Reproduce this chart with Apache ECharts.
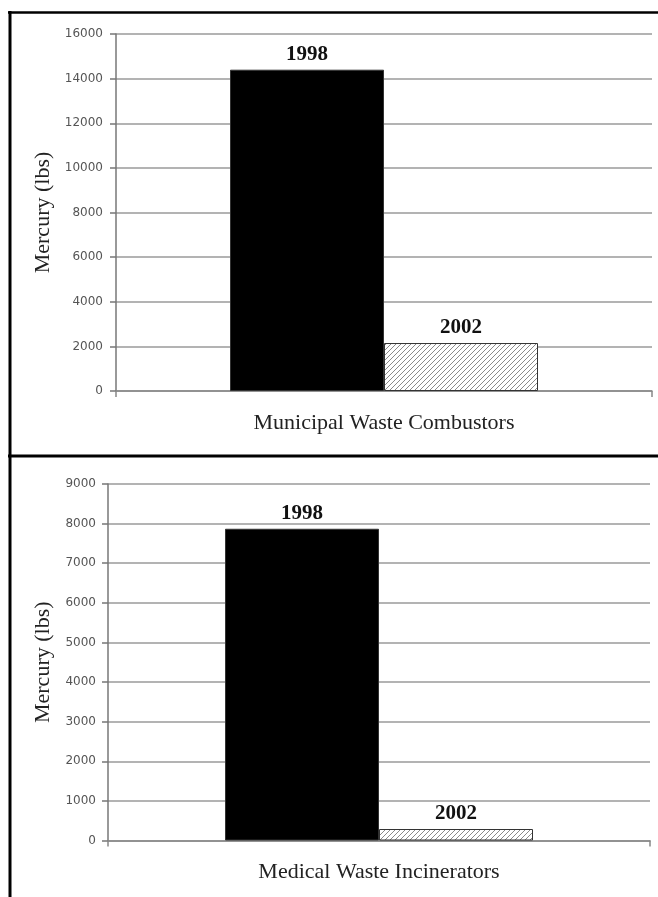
<!DOCTYPE html>
<html>
<head>
<meta charset="utf-8">
<script src="https://cdn.jsdelivr.net/npm/echarts@6/dist/echarts.min.js"></script>
<style>
html,body{margin:0;padding:0;background:#fff;}
#c{width:658px;height:897px;}
</style>
</head>
<body>
<div id="c"></div>
<script>
// Data
const topCategories = ['Municipal Waste Combustors'];
const bottomCategories = ['Medical Waste Incinerators'];
const seriesNames = ['1998', '2002'];
const topValues1998 = [14400];
const topValues2002 = [2150];
const bottomValues1998 = [7870];
const bottomValues2002 = [290];
const topAxisMax = 16000, topAxisInterval = 2000;
const bottomAxisMax = 9000, bottomAxisInterval = 1000;
const yAxisTitle = 'Mercury (lbs)';

// hatch pattern
const pc = document.createElement('canvas');
pc.width = 5; pc.height = 5;
const g = pc.getContext('2d');
g.fillStyle = '#fff'; g.fillRect(0,0,5,5);
g.strokeStyle = '#8a8a8a'; g.lineWidth = 1;
g.beginPath();
g.moveTo(0,5); g.lineTo(5,0);
g.moveTo(-1,1); g.lineTo(1,-1);
g.moveTo(4,6); g.lineTo(6,4);
g.stroke();
const hatch = {image: pc, repeat: 'repeat'};

const serif = 'Liberation Serif';
const tickFont = {fontFamily: 'DejaVu Sans', fontSize: 12, color: '#555'};

function yAx(gi, max, interval) {
  return {
    gridIndex: gi, type: 'value', min: 0, max: max, interval: interval,
    name: yAxisTitle, nameLocation: 'middle', nameRotate: 90,
    nameGap: gi === 0 ? 60 : 52,
    nameTextStyle: {fontFamily: serif, fontSize: 22, color: '#222'},
    axisLine: {show: true, lineStyle: {color: '#777', width: 1.5}},
    axisTick: {show: true, length: 6, lineStyle: {color: '#777', width: 1.5}},
    axisLabel: Object.assign({margin: gi === 0 ? 13 : 12, formatter: v => String(v)}, tickFont),
    splitLine: {show: true, lineStyle: {color: '#9a9a9a', width: 1.5}}
  };
}
function xAx(gi, cats) {
  return {
    gridIndex: gi, type: 'category', data: cats,
    axisLine: {show: true, lineStyle: {color: '#888', width: 1.5}},
    axisTick: {show: true, length: 6, alignWithLabel: false, lineStyle: {color: '#888', width: 1.5}},
    axisLabel: {margin: 21, fontFamily: serif, fontSize: 22, color: '#222'}
  };
}
const labelStyle = {show: true, position: 'top', distance: 5, fontFamily: serif, fontWeight: 'bold', fontSize: 21, color: '#111'};

function bars(gi, name, vals, color) {
  return {
    type: 'bar', name: name, xAxisIndex: gi, yAxisIndex: gi, data: vals,
    barWidth: 154, barGap: '0%',
    itemStyle: {color: color, borderColor: '#333', borderWidth: 1},
    label: Object.assign({formatter: name}, labelStyle),
    silent: true
  };
}

const chart = echarts.init(document.getElementById('c'), null, {renderer: 'canvas'});
chart.setOption({
  animation: false,
  backgroundColor: '#fff',
  grid: [
    {left: 116, top: 34, width: 536, height: 357},
    {left: 108, top: 484, width: 542, height: 356.5}
  ],
  xAxis: [xAx(0, topCategories), xAx(1, bottomCategories)],
  yAxis: [yAx(0, topAxisMax, topAxisInterval), yAx(1, bottomAxisMax, bottomAxisInterval)],
  series: [
    bars(0, seriesNames[0], topValues1998, '#000'),
    bars(0, seriesNames[1], topValues2002, hatch),
    bars(1, seriesNames[0], bottomValues1998, '#000'),
    bars(1, seriesNames[1], bottomValues2002, hatch)
  ],
  graphic: [
    {type: 'line', shape: {x1: 8, y1: 12.5, x2: 658, y2: 12.5}, style: {stroke: '#000', lineWidth: 2.5}},
    {type: 'line', shape: {x1: 10, y1: 11, x2: 10, y2: 897}, style: {stroke: '#000', lineWidth: 3}},
    {type: 'line', shape: {x1: 8, y1: 456, x2: 658, y2: 456}, style: {stroke: '#000', lineWidth: 3}}
  ]
});
</script>
</body>
</html>
